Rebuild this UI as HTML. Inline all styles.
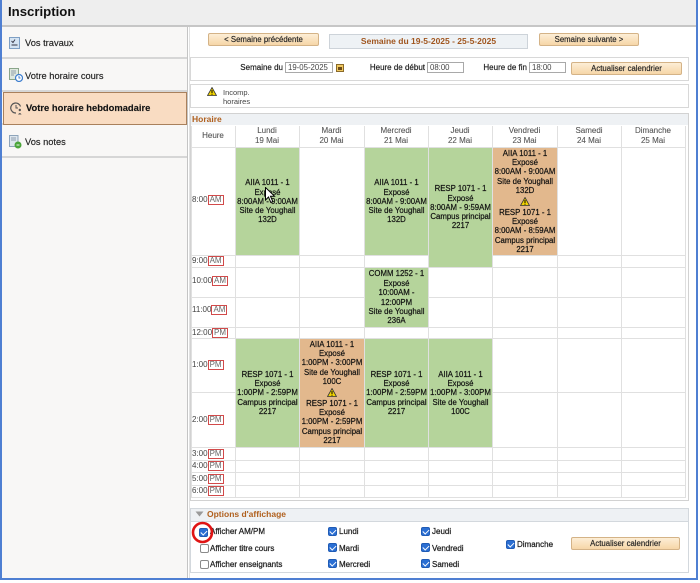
<!DOCTYPE html>
<html><head><meta charset="utf-8">
<style>
*{box-sizing:border-box;margin:0;padding:0}
body{width:700px;height:583px;overflow:hidden;background:#fff;font-family:"Liberation Sans",Arial,sans-serif;color:#333;position:relative}
.a{position:absolute}
.t{position:absolute;white-space:nowrap}
.btn{position:absolute;background:linear-gradient(#fdeed6,#f6d6a8);border:1px solid #d4b387;border-radius:2px;font-size:7.8px;color:#222;text-align:center;white-space:nowrap;-webkit-text-stroke:0.15px #222}
.inp{position:absolute;border:1px solid #a9a9a9;background:#fff;font-size:7.8px;color:#444;padding-left:2px;line-height:9px;top:62px;height:11px}
.lbl{position:absolute;font-size:8px;color:#222;white-space:nowrap;text-align:right;top:62px;line-height:11px;-webkit-text-stroke:0.2px #222}
.hl{position:absolute;height:1px;background:#e0e0e0;left:191px;width:494px}
.vl{position:absolute;width:1px;background:#e0e0e0;top:126px;height:372px}
.ev{position:absolute;display:flex;flex-direction:column;align-items:center;justify-content:center;font-size:7.8px;line-height:9.2px;color:#111;text-align:center;white-space:nowrap;-webkit-text-stroke:0.2px #111}
.ev.d{justify-content:flex-start;padding-top:1px}
.ev .w{height:13px;display:flex;align-items:center;justify-content:center}
.g{background:#b5d49b}
.o{background:#e2b88d}
.dh{position:absolute;top:126px;text-align:center;font-size:8px;line-height:9.6px;color:#555;white-space:nowrap;-webkit-text-stroke:0.1px #555}
.tl{position:absolute;left:192px;font-size:8px;color:#444;line-height:10px;height:10px;white-space:nowrap}
.tl span{display:inline-block;border:1px solid #d24a4a;height:10px;line-height:8px;padding:0 1px;color:#666;vertical-align:top}
.cb{position:absolute;width:9px;height:9px;border-radius:2px}
.cb.on{background:#2b6fd3;border:1px solid #1f5bb5}
.cb.on::after{content:"";position:absolute;left:2.3px;top:0.3px;width:2.6px;height:5px;border:solid #fff;border-width:0 1.5px 1.5px 0;transform:rotate(45deg)}
.cb.off{background:#fff;border:1px solid #8a8a8a}
.ol{position:absolute;font-size:8px;color:#222;white-space:nowrap;line-height:10px;-webkit-text-stroke:0.25px #222}
.nav{position:absolute;left:2px;width:185px;height:33px;border-bottom:2px solid #d6d6d6}
.navt{position:absolute;left:25px;font-size:9.3px;color:#222;white-space:nowrap;line-height:12px;-webkit-text-stroke:0.15px #222}
</style></head><body>

<!-- outer blue frame -->
<div class="a" style="left:0;top:-2px;width:698px;height:582px;border:2px solid #4f7fd2;"></div>

<!-- header -->
<div class="a" style="left:2px;top:0;width:694px;height:27px;background:#eeeeee;border-bottom:2px solid #c6c6c6;"></div>
<div class="t" style="left:8px;top:4px;font-size:13.2px;font-weight:bold;color:#111;line-height:16px;">Inscription</div>

<!-- sidebar -->
<div class="a" style="left:2px;top:27px;width:185px;height:551px;background:#f8f7f6;"></div>
<div class="nav" style="top:26px;"></div>
<div class="nav" style="top:59px;"></div>
<div class="nav" style="top:92px;"></div>
<div class="nav" style="top:125px;"></div>
<div class="a" style="left:3px;top:92px;width:184px;height:33px;background:#f9dcc2;border:1px solid #a9805c;"></div>

<!-- icons -->
<svg class="a" style="left:9px;top:37px" width="12" height="12" viewBox="0 0 12 12"><rect x="0.5" y="0.5" width="10" height="11" fill="#d5e4f3" stroke="#7e9fc4"/><path d="M2.5 4 l1.5 1.5 l2-3 M2.5 8 h6" stroke="#334" stroke-width="0.9" fill="none"/></svg>
<svg class="a" style="left:9px;top:68px" width="14" height="14" viewBox="0 0 14 14"><rect x="0.5" y="0.5" width="9" height="11" fill="#dfe9df" stroke="#8aa58a"/><path d="M2 3h5M2 5h5M2 7h3" stroke="#789" stroke-width="0.8"/><circle cx="10" cy="10" r="3.5" fill="#fff" stroke="#3f7fcf" stroke-width="1.2"/><path d="M10 8v2h1.5" stroke="#3f7fcf" stroke-width="0.9" fill="none"/></svg>
<svg class="a" style="left:10px;top:102px" width="13" height="13" viewBox="0 0 13 13"><path d="M10.5 4.5 A5 5 0 1 0 6 11" stroke="#555" stroke-width="1.2" fill="none"/><path d="M6 3v3h2" stroke="#555" stroke-width="1" fill="none"/><circle cx="9.8" cy="8" r="1.2" fill="#555"/><path d="M8 12.5 q1.8-3 3.6 0" fill="#555"/></svg>
<svg class="a" style="left:9px;top:135px" width="13" height="14" viewBox="0 0 13 14"><rect x="0.5" y="0.5" width="8.5" height="11" fill="#dde6ee" stroke="#8ea4ba"/><path d="M2 3h5M2 5h5" stroke="#789" stroke-width="0.8"/><circle cx="9" cy="10" r="3.5" fill="#4aa53a"/><path d="M7.5 10h3" stroke="#fff" stroke-width="0.9"/></svg>

<div class="navt" style="top:37px;">Vos travaux</div>
<div class="navt" style="top:70px;">Votre horaire cours</div>
<div class="navt" style="top:102px;left:26px;font-weight:bold;font-size:9.4px;color:#111;">Votre horaire hebdomadaire</div>
<div class="navt" style="top:136px;">Vos notes</div>

<!-- divider -->
<div class="a" style="left:187px;top:27px;width:1px;height:551px;background:#c4c4c4;"></div>
<div class="a" style="left:189px;top:27px;width:1px;height:551px;background:#e2e2e2;"></div>

<!-- top buttons -->
<div class="btn" style="left:208px;top:33px;width:111px;height:13px;line-height:11px;">&lt; Semaine précédente</div>
<div class="a" style="left:329px;top:34px;width:199px;height:15px;background:#eef2f5;border:1px solid #cdd3d9;"></div>
<div class="t" style="left:329px;top:35px;width:199px;text-align:center;font-size:8.5px;font-weight:bold;color:#a0561f;line-height:12px;">Semaine du 19-5-2025 - 25-5-2025</div>
<div class="btn" style="left:539px;top:33px;width:100px;height:13px;line-height:11px;">Semaine suivante &gt;</div>

<!-- row 2 -->
<div class="a" style="left:190px;top:57px;width:499px;height:24px;border:1px solid #d8d8d8;"></div>
<div class="lbl" style="left:220px;width:63px;">Semaine du</div>
<div class="inp" style="left:285px;width:48px;">19-05-2025</div>
<div class="a" style="left:336px;top:64px;width:8px;height:8px;background:#f0c860;border:1px solid #8a6a2a;"></div>
<div class="a" style="left:338px;top:67px;width:4px;height:3px;background:#6b4a1a;"></div>
<div class="lbl" style="left:350px;width:75px;">Heure de début</div>
<div class="inp" style="left:427px;width:37px;">08:00</div>
<div class="lbl" style="left:470px;width:57px;">Heure de fin</div>
<div class="inp" style="left:529px;width:37px;">18:00</div>
<div class="btn" style="left:571px;top:62px;width:111px;height:13px;line-height:11px;">Actualiser calendrier</div>

<!-- row 3 -->
<div class="a" style="left:190px;top:84px;width:499px;height:24px;border:1px solid #d8d8d8;"></div>
<svg class="a" style="left:207px;top:87px" width="10" height="9" viewBox="0 0 10 9"><polygon points="5,0.5 9.5,8.5 0.5,8.5" fill="#f2d400" stroke="#333" stroke-width="0.8"/><rect x="4.5" y="3" width="1" height="3" fill="#000"/><rect x="4.5" y="6.7" width="1" height="1" fill="#000"/></svg>
<div class="t" style="left:223px;top:88px;font-size:7.5px;line-height:9px;color:#444;">Incomp.<br>horaires</div>

<!-- Horaire box -->
<div class="a" style="left:190px;top:113px;width:499px;height:388px;border:1px solid #d2d2d2;"></div>
<div class="a" style="left:191px;top:114px;width:497px;height:11px;background:#eef1f4;"></div>
<div class="t" style="left:192px;top:113px;font-size:8.5px;font-weight:bold;color:#b0601e;line-height:12px;">Horaire</div>

<!-- grid lines -->
<div class="hl" style="top:147px"></div>
<div class="hl" style="top:255px"></div>
<div class="hl" style="top:267px"></div>
<div class="hl" style="top:297px"></div>
<div class="hl" style="top:327px"></div>
<div class="hl" style="top:338px"></div>
<div class="hl" style="top:392px"></div>
<div class="hl" style="top:447px"></div>
<div class="hl" style="top:460px"></div>
<div class="hl" style="top:472px"></div>
<div class="hl" style="top:485px"></div>
<div class="hl" style="top:497px"></div>
<div class="vl" style="left:191px"></div>
<div class="vl" style="left:235px"></div>
<div class="vl" style="left:299px"></div>
<div class="vl" style="left:364px"></div>
<div class="vl" style="left:428px"></div>
<div class="vl" style="left:492px"></div>
<div class="vl" style="left:557px"></div>
<div class="vl" style="left:621px"></div>
<div class="vl" style="left:685px"></div>

<!-- column headers -->
<div class="dh" style="left:191px;width:44px;top:131px;">Heure</div>
<div class="dh" style="left:235px;width:64px;">Lundi<br>19 Mai</div>
<div class="dh" style="left:299px;width:65px;">Mardi<br>20 Mai</div>
<div class="dh" style="left:364px;width:64px;">Mercredi<br>21 Mai</div>
<div class="dh" style="left:428px;width:64px;">Jeudi<br>22 Mai</div>
<div class="dh" style="left:492px;width:65px;">Vendredi<br>23 Mai</div>
<div class="dh" style="left:557px;width:64px;">Samedi<br>24 Mai</div>
<div class="dh" style="left:621px;width:64px;">Dimanche<br>25 Mai</div>

<!-- time labels -->
<div class="tl" style="top:195px">8:00<span>AM</span></div>
<div class="tl" style="top:256px">9:00<span>AM</span></div>
<div class="tl" style="top:276px">10:00<span>AM</span></div>
<div class="tl" style="top:305px">11:00<span>AM</span></div>
<div class="tl" style="top:328px">12:00<span>PM</span></div>
<div class="tl" style="top:360px">1:00<span>PM</span></div>
<div class="tl" style="top:415px">2:00<span>PM</span></div>
<div class="tl" style="top:449px">3:00<span>PM</span></div>
<div class="tl" style="top:461px">4:00<span>PM</span></div>
<div class="tl" style="top:474px">5:00<span>PM</span></div>
<div class="tl" style="top:486px">6:00<span>PM</span></div>

<!-- events -->
<div class="ev g" style="left:236px;top:148px;width:63px;height:107px;"><div>AIIA 1011 - 1</div><div>Exposé</div><div>8:00AM - 9:00AM</div><div>Site de Youghall</div><div>132D</div></div>
<div class="ev g" style="left:365px;top:148px;width:63px;height:107px;"><div>AIIA 1011 - 1</div><div>Exposé</div><div>8:00AM - 9:00AM</div><div>Site de Youghall</div><div>132D</div></div>
<div class="ev g" style="left:429px;top:148px;width:63px;height:119px;"><div>RESP 1071 - 1</div><div>Exposé</div><div>8:00AM - 9:59AM</div><div>Campus principal</div><div>2217</div></div>
<div class="ev o d" style="left:493px;top:148px;width:64px;height:107px;"><div>AIIA 1011 - 1</div><div>Exposé</div><div>8:00AM - 9:00AM</div><div>Site de Youghall</div><div>132D</div><div class="w"><svg width="10" height="9" viewBox="0 0 10 9"><polygon points="5,0.5 9.5,8.5 0.5,8.5" fill="#f2d400" stroke="#333" stroke-width="0.8"/><rect x="4.5" y="3" width="1" height="3" fill="#000"/><rect x="4.5" y="6.7" width="1" height="1" fill="#000"/></svg></div><div>RESP 1071 - 1</div><div>Exposé</div><div>8:00AM - 8:59AM</div><div>Campus principal</div><div>2217</div></div>

<div class="ev g" style="left:365px;top:268px;width:63px;height:59px;line-height:9.4px;"><div>COMM 1252 - 1</div><div>Exposé</div><div>10:00AM -</div><div>12:00PM</div><div>Site de Youghall</div><div>236A</div></div>

<div class="ev g" style="left:236px;top:339px;width:63px;height:108px;"><div>RESP 1071 - 1</div><div>Exposé</div><div>1:00PM - 2:59PM</div><div>Campus principal</div><div>2217</div></div>
<div class="ev o d" style="left:300px;top:339px;width:64px;height:108px;"><div>AIIA 1011 - 1</div><div>Exposé</div><div>1:00PM - 3:00PM</div><div>Site de Youghall</div><div>100C</div><div class="w"><svg width="10" height="9" viewBox="0 0 10 9"><polygon points="5,0.5 9.5,8.5 0.5,8.5" fill="#f2d400" stroke="#333" stroke-width="0.8"/><rect x="4.5" y="3" width="1" height="3" fill="#000"/><rect x="4.5" y="6.7" width="1" height="1" fill="#000"/></svg></div><div>RESP 1071 - 1</div><div>Exposé</div><div>1:00PM - 2:59PM</div><div>Campus principal</div><div>2217</div></div>
<div class="ev g" style="left:365px;top:339px;width:63px;height:108px;"><div>RESP 1071 - 1</div><div>Exposé</div><div>1:00PM - 2:59PM</div><div>Campus principal</div><div>2217</div></div>
<div class="ev g" style="left:429px;top:339px;width:63px;height:108px;"><div>AIIA 1011 - 1</div><div>Exposé</div><div>1:00PM - 3:00PM</div><div>Site de Youghall</div><div>100C</div></div>

<!-- cursor -->
<svg class="a" style="left:265px;top:187px" width="11" height="17" viewBox="0 0 11 17"><path d="M0.5,0.5 L0.5,13 L3.5,10 L5.8,15.5 L7.8,14.6 L5.5,9.2 L9.5,9.2 Z" fill="#fff" stroke="#000" stroke-width="1"/></svg>

<!-- Options d'affichage -->
<div class="a" style="left:190px;top:508px;width:499px;height:14px;background:#eef1f4;border:1px solid #d3d8dd;"></div>
<svg class="a" style="left:195px;top:511px" width="9" height="6" viewBox="0 0 9 6"><polygon points="0.5,0.5 8.5,0.5 4.5,5.5" fill="#9a9a9a"/></svg>
<div class="t" style="left:207px;top:508px;font-size:8.5px;font-weight:bold;color:#b0601e;line-height:12px;">Options d'affichage</div>
<div class="a" style="left:190px;top:521px;width:499px;height:52px;border:1px solid #d3d8dd;border-top:none;"></div>

<div class="cb on" style="left:199px;top:528px"></div>
<div class="ol" style="left:210px;top:527px">Afficher AM/PM</div>
<div class="cb off" style="left:200px;top:544px"></div>
<div class="ol" style="left:210px;top:544px">Afficher titre cours</div>
<div class="cb off" style="left:200px;top:560px"></div>
<div class="ol" style="left:210px;top:560px">Afficher enseignants</div>

<div class="cb on" style="left:328px;top:527px"></div>
<div class="ol" style="left:339px;top:527px">Lundi</div>
<div class="cb on" style="left:328px;top:543px"></div>
<div class="ol" style="left:339px;top:544px">Mardi</div>
<div class="cb on" style="left:328px;top:559px"></div>
<div class="ol" style="left:339px;top:560px">Mercredi</div>

<div class="cb on" style="left:421px;top:527px"></div>
<div class="ol" style="left:432px;top:527px">Jeudi</div>
<div class="cb on" style="left:421px;top:543px"></div>
<div class="ol" style="left:432px;top:544px">Vendredi</div>
<div class="cb on" style="left:421px;top:559px"></div>
<div class="ol" style="left:432px;top:560px">Samedi</div>

<div class="cb on" style="left:506px;top:540px"></div>
<div class="ol" style="left:517px;top:540px">Dimanche</div>

<div class="btn" style="left:571px;top:537px;width:109px;height:13px;line-height:11px;">Actualiser calendrier</div>

<!-- red circle -->
<svg class="a" style="left:190px;top:520px" width="25" height="25" viewBox="0 0 25 25"><circle cx="12.5" cy="12.5" r="9.5" fill="none" stroke="#e01414" stroke-width="2.6"/></svg>

</body></html>
